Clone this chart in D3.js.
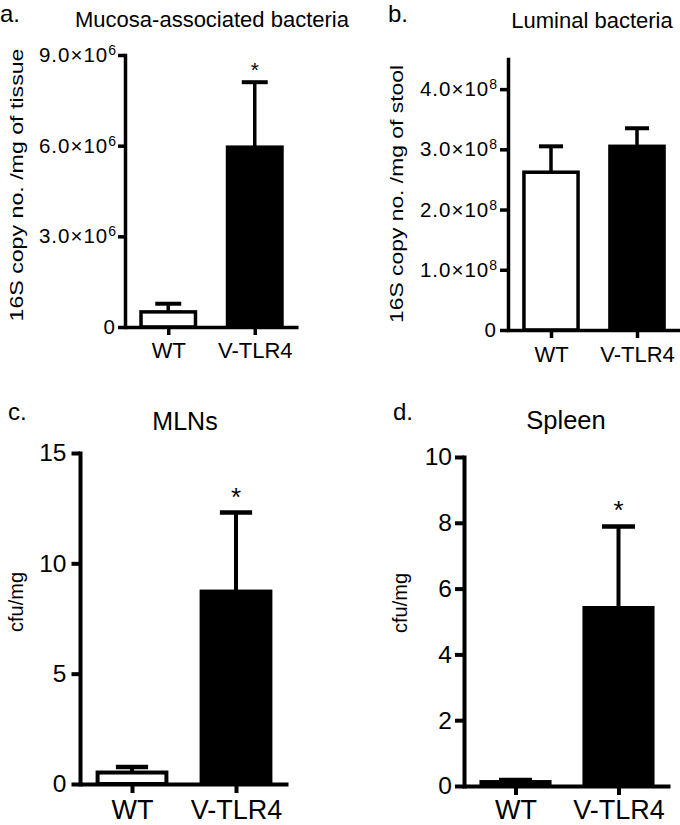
<!DOCTYPE html>
<html><head><meta charset="utf-8">
<script src="https://cdn.jsdelivr.net/npm/d3@7"></script>
<style>
body{margin:0;background:#fff}
svg{display:block}
text{font-family:"Liberation Sans",Arial,Helvetica,sans-serif;fill:#000}
</style>
</head><body>
<svg id="chart" width="680" height="825"></svg>
<script>
// ---------- data ----------
const categories = ["WT", "V-TLR4"];
const barFills = ["#ffffff", "#000000"];

// a. Mucosa-associated bacteria (16S copy no. / mg of tissue)
const mucosaMean = [0.50e6, 5.95e6];
const mucosaSem = [0.27e6, 2.15e6];
const mucosaSig = ["", "*"];
const mucosaTicks = [0, 3e6, 6e6, 9e6];
const mucosaTickText = ["0", "3.0×10", "6.0×10", "9.0×10"];
const mucosaTickExp = ["", "6", "6", "6"];

// b. Luminal bacteria (16S copy no. / mg of stool)
const luminalMean = [2.62e8, 3.05e8];
const luminalSem = [0.43e8, 0.30e8];
const luminalSig = ["", ""];
const luminalTicks = [0, 1e8, 2e8, 3e8, 4e8];
const luminalTickText = ["0", "1.0×10", "2.0×10", "3.0×10", "4.0×10"];
const luminalTickExp = ["", "8", "8", "8", "8"];

// c. MLNs (cfu/mg)
const mlnMean = [0.52, 8.72];
const mlnSem = [0.25, 3.58];
const mlnSig = ["", "*"];
const mlnTicks = [0, 5, 10, 15];
const mlnTickText = ["0", "5", "10", "15"];

// d. Spleen (cfu/mg)
const spleenMean = [0.12, 5.41];
const spleenSem = [0.06, 2.48];
const spleenSig = ["", "*"];
const spleenTicks = [0, 2, 4, 6, 8, 10];
const spleenTickText = ["0", "2", "4", "6", "8", "10"];

// ---------- drawing ----------
const svg = d3.select("#chart");

function drawPanel(p) {
  const g = svg.append("g");
  const y = d3.scaleLinear().domain([0, p.yMax]).range([p.y0, p.yTop]);
  const x = d3.scalePoint().domain(categories).range([p.axisX, p.xEnd]).padding(0.5);
  const step = x.step();
  const bw = p.barFrac * step - p.sw;
  const capW = p.capFrac * step;

  // error bars (upper only)
  g.selectAll("line.err").data(categories).join("line")
    .attr("x1", d => x(d)).attr("x2", d => x(d))
    .attr("y1", (d, i) => y(p.mean[i]))
    .attr("y2", (d, i) => y(p.mean[i] + p.sem[i]))
    .attr("stroke", "#000").attr("stroke-width", p.sw);
  g.selectAll("line.cap").data(categories).join("line")
    .attr("x1", d => x(d) - capW / 2).attr("x2", d => x(d) + capW / 2)
    .attr("y1", (d, i) => y(p.mean[i] + p.sem[i]))
    .attr("y2", (d, i) => y(p.mean[i] + p.sem[i]))
    .attr("stroke", "#000").attr("stroke-width", p.sw + 0.5);

  // bars
  g.selectAll("rect.bar").data(categories).join("rect")
    .attr("x", d => x(d) - bw / 2)
    .attr("y", (d, i) => y(p.mean[i]))
    .attr("width", bw)
    .attr("height", (d, i) => p.y0 - y(p.mean[i]))
    .attr("fill", (d, i) => barFills[i])
    .attr("stroke", "#000").attr("stroke-width", p.sw);

  // significance
  g.selectAll("text.sig").data(categories).join("text")
    .attr("x", d => x(d))
    .attr("y", (d, i) => y(p.mean[i] + p.sem[i]) - p.sigGap)
    .attr("text-anchor", "middle").attr("font-size", p.sigFs)
    .text((d, i) => p.sig[i]);

  // y axis
  const yAxis = d3.axisLeft(y).tickValues(p.ticks).tickSize(p.tickLen)
    .tickSizeOuter(0).tickPadding(p.tickPad).tickFormat((d, i) => p.tickText[i]);
  const ya = g.append("g").attr("transform", `translate(${p.axisX},0)`).call(yAxis)
    .attr("font-size", null).attr("font-family", null);
  ya.select(".domain").attr("stroke-width", p.sw).attr("stroke-linecap", "square");
  ya.selectAll(".tick line").attr("stroke-width", p.sw);
  ya.selectAll(".tick text").attr("font-size", p.tickFs)
    .attr("letter-spacing", p.tickLs || 0);
  if (p.tickExp) {
    ya.selectAll(".tick text").append("tspan")
      .attr("dy", p.expDy).attr("font-size", p.expFs).attr("letter-spacing", 0)
      .text((d, i) => p.tickExp[i]);
  }

  // x axis
  const xAxis = d3.axisBottom(x).tickSize(p.xTickLen).tickSizeOuter(0).tickPadding(p.xPad);
  const xa = g.append("g").attr("transform", `translate(0,${p.y0})`).call(xAxis)
    .attr("font-size", null).attr("font-family", null);
  xa.select(".domain").attr("stroke-width", p.sw);
  xa.selectAll(".tick line").attr("stroke-width", p.sw);
  xa.selectAll(".tick text").attr("font-size", p.xFs);

  // titles
  g.append("text").attr("x", p.letterX).attr("y", p.letterY)
    .attr("font-size", p.letterFs).text(p.letter);
  g.append("text").attr("x", p.titleX).attr("y", p.titleY)
    .attr("text-anchor", "middle").attr("font-size", p.titleFs).text(p.title);
  const yt = g.append("text")
    .attr("transform", `translate(${p.yTitleX},${p.yTitleY}) rotate(-90)`)
    .attr("text-anchor", "middle").attr("font-size", p.yTitleFs).text(p.yTitle);
  if (p.yTitleLen) yt.attr("textLength", p.yTitleLen).attr("lengthAdjust", "spacingAndGlyphs");
}

drawPanel({
  mean: mucosaMean, sem: mucosaSem, sig: mucosaSig,
  ticks: mucosaTicks, tickText: mucosaTickText, tickExp: mucosaTickExp,
  yMax: 9e6, y0: 327, yTop: 55, axisX: 125, xEnd: 298,
  tickLen: 7, tickPad: 2, tickFs: 20.5, tickLs: 1, expFs: 14, expDy: -7,
  sw: 3.5, barFrac: 0.67, capFrac: 0.3, sigFs: 21, sigGap: 5,
  xTickLen: 8, xPad: 7, xFs: 22,
  letter: "a.", letterX: 0, letterY: 22, letterFs: 24,
  title: "Mucosa-associated bacteria", titleX: 212, titleY: 27, titleFs: 22,
  yTitle: "16S copy no. /mg of tissue", yTitleX: 23, yTitleY: 185, yTitleFs: 18, yTitleLen: 273
});

drawPanel({
  mean: luminalMean, sem: luminalSem, sig: luminalSig,
  ticks: luminalTicks, tickText: luminalTickText, tickExp: luminalTickExp,
  yMax: 4.5e8, y0: 330, yTop: 59, axisX: 508, xEnd: 680,
  tickLen: 8, tickPad: 3, tickFs: 20.5, tickLs: 1, expFs: 14, expDy: -7,
  sw: 3.5, barFrac: 0.67, capFrac: 0.28, sigFs: 21, sigGap: 5,
  xTickLen: 8, xPad: 8, xFs: 22,
  letter: "b.", letterX: 388, letterY: 22, letterFs: 24,
  title: "Luminal bacteria", titleX: 592, titleY: 28, titleFs: 22,
  yTitle: "16S copy no. /mg of stool", yTitleX: 403, yTitleY: 194, yTitleFs: 18, yTitleLen: 258
});

drawPanel({
  mean: mlnMean, sem: mlnSem, sig: mlnSig,
  ticks: mlnTicks, tickText: mlnTickText,
  yMax: 15, y0: 784, yTop: 453, axisX: 80, xEnd: 288,
  tickLen: 8.5, tickPad: 5, tickFs: 24.5,
  sw: 4, barFrac: 0.7, capFrac: 0.31, sigFs: 26, sigGap: 7,
  xTickLen: 9, xPad: 7, xFs: 27,
  letter: "c.", letterX: 8, letterY: 420, letterFs: 24,
  title: "MLNs", titleX: 185, titleY: 430, titleFs: 25,
  yTitle: "cfu/mg", yTitleX: 23, yTitleY: 602, yTitleFs: 20
});

drawPanel({
  mean: spleenMean, sem: spleenSem, sig: spleenSig,
  ticks: spleenTicks, tickText: spleenTickText,
  yMax: 10, y0: 786, yTop: 457, axisX: 464, xEnd: 670,
  tickLen: 9, tickPad: 3, tickFs: 24.5,
  sw: 4, barFrac: 0.7, capFrac: 0.32, sigFs: 26, sigGap: 7,
  xTickLen: 9, xPad: 5, xFs: 27,
  letter: "d.", letterX: 393, letterY: 420, letterFs: 24,
  title: "Spleen", titleX: 566, titleY: 429, titleFs: 25.5,
  yTitle: "cfu/mg", yTitleX: 407, yTitleY: 603, yTitleFs: 20
});
</script>
</body></html>
